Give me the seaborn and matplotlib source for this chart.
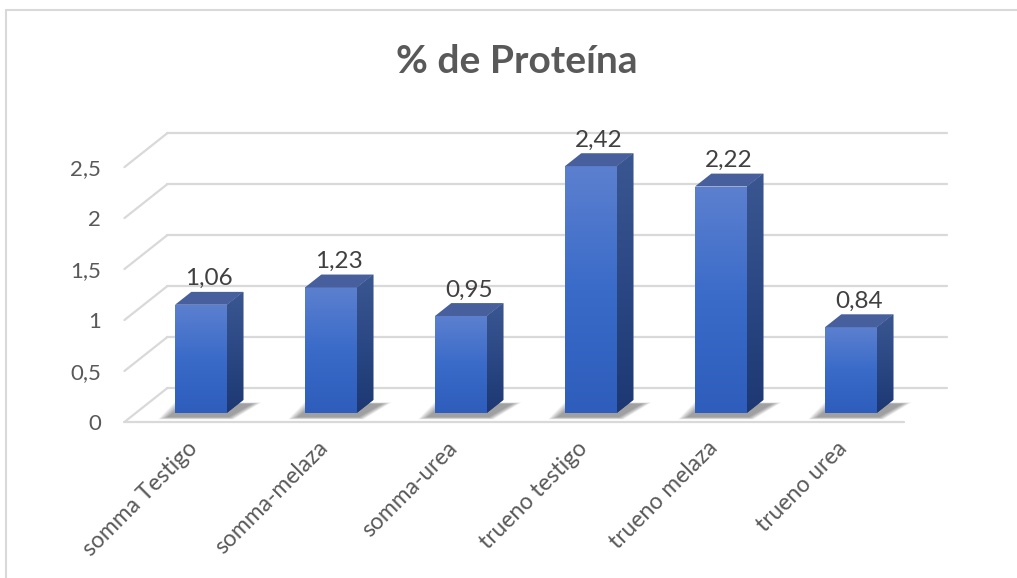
import numpy as np
import pandas as pd
import matplotlib.pyplot as plt
import seaborn as sns
from matplotlib.patches import Polygon, Rectangle
from matplotlib.colors import LinearSegmentedColormap

categories = ["somma Testigo", "somma-melaza", "somma-urea",
              "trueno testigo", "trueno melaza", "trueno urea"]
values = [1.06, 1.23, 0.95, 2.42, 2.22, 0.84]
y_ticks = [0, 0.5, 1, 1.5, 2, 2.5]
y_tick_labels = ["0", "0,5", "1", "1,5", "2", "2,5"]
title = "% de Proteína"

sns.set_theme(style="white")
plt.rcParams["font.family"] = ["Lato", "DejaVu Sans"]

# oblique "3D" projection: depth f in [0, 1] (front floor edge -> back wall)
DX, DY = 0.33, 0.333
F_FRONT, F_BACK = 0.27, 0.65   # depth of bar front / back faces
BAR_W = 0.4


def proj(x, y, f):
    return x + (f - F_FRONT) * DX, y + (f - F_FRONT) * DY


W, H = 1017, 578
fig = plt.figure(figsize=(W / 100, H / 100), dpi=100)
ax = fig.add_axes([122 / W, (H - 422) / H, (980 - 122) / W, (422 - 110) / H])

df = pd.DataFrame({"cat": categories, "val": values})
sns.barplot(data=df, x="cat", y="val", order=categories, color="#3f6cc6",
            width=BAR_W, saturation=1, ax=ax, zorder=3)

grid_c = "#d9d9d9"
x_lo, x_hi = -0.5, len(categories) - 0.5
for v in y_ticks:
    p0 = proj(x_lo, v, 1)
    p1 = proj(x_hi, v, 1)
    ax.plot([p0[0], p1[0]], [p0[1], p1[1]], color=grid_c, lw=1.6, zorder=1)
    q0 = proj(x_lo, v, 0)
    ax.plot([q0[0], p0[0]], [q0[1], p0[1]], color=grid_c, lw=1.6, zorder=1)
f0 = proj(x_lo, 0, 0)
f1 = proj(x_hi, 0, 0)
ax.plot([f0[0], f1[0]], [f0[1], f1[1]], color=grid_c, lw=1.6, zorder=1,
        clip_on=False)

front_cmap = LinearSegmentedColormap.from_list("front", ["#2e5dbc", "#3a6bc9", "#5c80cf"])
side_cmap = LinearSegmentedColormap.from_list("side", ["#1d3873", "#2b4884", "#3b5792"])
dd_x = (F_BACK - F_FRONT) * DX
dd_y = (F_BACK - F_FRONT) * DY
grad = np.linspace(0, 1, 256).reshape(-1, 1)

for i, bar in enumerate(list(ax.patches)):
    x0 = bar.get_x()
    x1 = x0 + bar.get_width()
    h = bar.get_height()

    # soft shadow on the floor (stacked translucent layers)
    n_layers = 10
    for k in range(n_layers):
        s = 0.08 * (1 - k / n_layers)
        pts = [(x0 - 0.05 - s, -0.04 - s * 0.3),
               (x1 + 0.01 + s * 0.5, -0.04 - s * 0.3),
               (x1 + dd_x + 0.06 + s, dd_y - 0.04 + s * 0.2),
               (x0 + dd_x - 0.05 - s, dd_y - 0.04 + s * 0.2)]
        ax.add_patch(Polygon(pts, closed=True, facecolor="#000000", alpha=0.045,
                             edgecolor="none", zorder=2))

    # front face gradient
    bar.set_edgecolor("none")
    im = ax.imshow(grad, cmap=front_cmap, origin="lower", aspect="auto",
                   extent=(x0, x1, 0, h), zorder=3.1)
    im.set_clip_path(bar)

    # side face
    side = Polygon([(x1, 0), (x1 + dd_x, dd_y), (x1 + dd_x, h + dd_y), (x1, h)],
                   closed=True, facecolor="#2b4884", edgecolor="none", zorder=3)
    ax.add_patch(side)
    im2 = ax.imshow(grad, cmap=side_cmap, origin="lower", aspect="auto",
                    extent=(x1, x1 + dd_x, 0, h + dd_y), zorder=3.1)
    im2.set_clip_path(side)

    # top face
    ax.add_patch(Polygon([(x0, h), (x1, h), (x1 + dd_x, h + dd_y), (x0 + dd_x, h + dd_y)],
                         closed=True, facecolor="#475f9c", edgecolor="none", zorder=3.2))

    ax.text((x0 + x1) / 2 + dd_x / 2, h + dd_y + 0.025,
            f"{values[i]:.2f}".replace(".", ","),
            ha="center", va="bottom", fontsize=17.5, color="#404040", zorder=4)

ax.set_xlim((122 - 201) / 130, (980 - 201) / 130)
ax.set_ylim(-F_FRONT * DY, (413 - 110) / 102)

ax.set_xticks([i - F_FRONT * DX - 0.02 for i in range(len(categories))])
ax.set_xticklabels(categories, rotation=45, ha="right", va="top",
                   rotation_mode="anchor", fontsize=16.5, color="#595959")
ax.set_yticks([v - F_FRONT * DY for v in y_ticks])
ax.set_yticklabels(y_tick_labels, fontsize=16, color="#595959")
ax.tick_params(axis="y", length=0, pad=15)
ax.tick_params(axis="x", length=0, pad=11)
ax.set_xlabel("")
ax.set_ylabel("")
for sp in ax.spines.values():
    sp.set_visible(False)
ax.patch.set_alpha(0)

fig.text(517 / W, 1 - 73 / H, title, ha="center", va="baseline",
         fontsize=28, fontweight="bold", color="#595959")

fig.patches.append(Rectangle((6 / W, -0.5), 2, 0.5 + (H - 10) / H,
                             transform=fig.transFigure, fill=False,
                             edgecolor="#d9d9d9", lw=1.5))

fig.savefig("out.png", dpi=100)
